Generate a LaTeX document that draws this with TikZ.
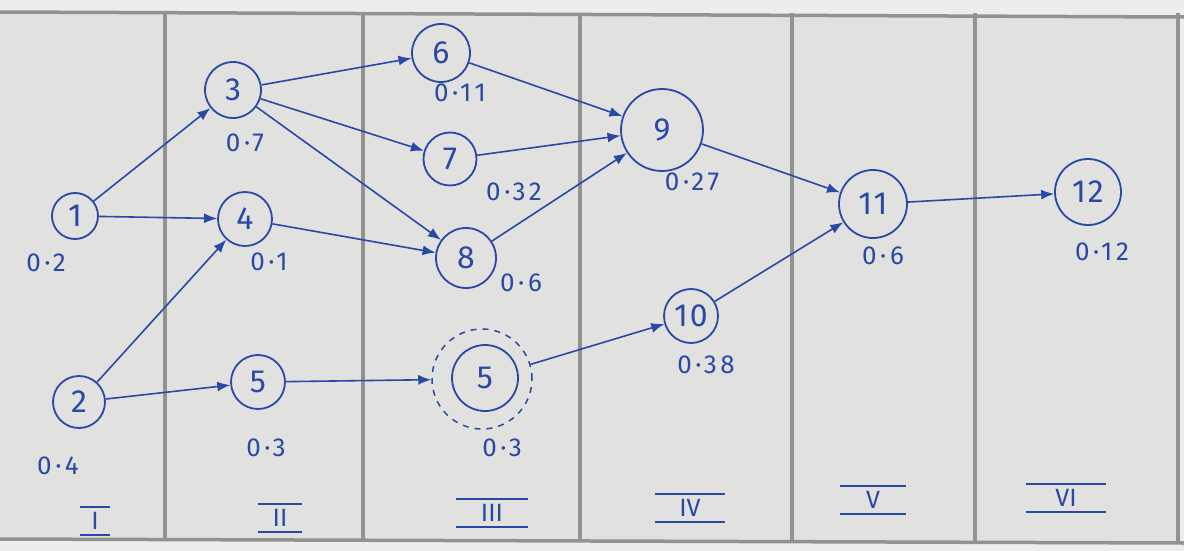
\documentclass[tikz,border=0pt]{standalone}
\usepackage{fontspec}
\setmainfont{Fira Sans}
\newfontfamily\widehand{Fira Sans}[LetterSpace=14]
\newfontfamily\nodehand{Fira Sans}[LetterSpace=6]
\usetikzlibrary{arrows.meta}
\definecolor{ink}{HTML}{2A48A6}
\definecolor{paper}{HTML}{E1E1DF}
\definecolor{paperlight}{HTML}{EDEDEB}
\definecolor{rule}{HTML}{929290}
\begin{document}
\begin{tikzpicture}[x=1pt,y=-1pt,
  state/.style={circle,draw=ink,line width=1.8pt,text=ink,inner sep=0pt,
    font=\nodehand\fontsize{32}{32}\selectfont},
  weight/.style={text=ink,inner sep=0pt,font=\widehand\fontsize{26}{26}\selectfont},
  numeral/.style={text=ink,inner sep=0pt,minimum height=28pt,
    font=\fontsize{25}{25}\selectfont},
  edge/.style={draw=ink,line width=1.6pt,-{Latex[length=13pt,width=10pt]}},
  bar/.style={draw=ink,line width=1.8pt},
  gridline/.style={draw=rule,line width=3.5pt},
]
\useasboundingbox (0,0) rectangle (1184,551);
% sheet of paper
\fill[paper] (0,0) rectangle (1184,551);
\fill[paperlight] (0,0) -- (1184,0) -- (1184,16) -- (0,11) -- cycle;
\fill[paperlight] (0,540) -- (1184,544) -- (1184,551) -- (0,551) -- cycle;
\fill[paperlight] (1179,0) rectangle (1184,551);

% table rules
\draw[gridline] (0,12) -- (1184,17);
\draw[gridline] (0,539) -- (1184,543);
\foreach \x in {165,363,580,792,975,1178}
  \draw[gridline] (\x,13) -- (\x,541);

% activity nodes
\node[state,minimum size=46pt] (n1)  at (75,216)  {1};
\node[state,minimum size=52pt] (n2)  at (79,402)  {2};
\node[state,minimum size=56pt] (n3)  at (233,90)  {3};
\node[state,minimum size=54pt] (n4)  at (245,219) {4};
\node[state,minimum size=54pt] (n5)  at (258,382) {5};
\node[state,minimum size=58pt] (n6)  at (441,53)  {6};
\node[state,minimum size=53pt] (n7)  at (450,159) {7};
\node[state,minimum size=60pt] (n8)  at (466,258) {8};
\node[state,minimum size=66pt] (n5b) at (485,378) {5};
\node[circle,draw=ink,line width=1.5pt,dash pattern=on 6pt off 6pt,
      minimum size=100pt,inner sep=0pt] (n5ring) at (482,379) {};
\node[state,minimum size=82pt] (n9)  at (662,130) {9};
\node[state,minimum size=54pt] (n10) at (691,316) {10};
\node[state,minimum size=68pt] (n11) at (873,204) {11};
\node[state,minimum size=66pt] (n12) at (1088,192) {12};

% weights
\node[weight] (w1)  at (46,263)   {0·2};
\node[weight] (w2)  at (58,466)   {0·4};
\node[weight] (w3)  at (245,143)  {0·7};
\node[weight] (w4)  at (269,262)  {0·1};
\node[weight] (w5)  at (266,448)  {0·3};
\node[weight] (w6)  at (460,93)   {0·11};
\node[weight] (w7)  at (514,192)  {0·32};
\node[weight] (w8)  at (521,283)  {0·6};
\node[weight] (w5b) at (502,448)  {0·3};
\node[weight] (w9)  at (692,182)  {0·27};
\node[weight] (w10) at (706,365)  {0·38};
\node[weight] (w11) at (883,256)  {0·6};
\node[weight] (w12) at (1102,252) {0·12};

% stage numerals
\node[numeral,minimum width=30pt] (r1) at (95,521)   {I};
\node[numeral,minimum width=44pt] (r2) at (280,518)  {II};
\node[numeral,minimum width=72pt] (r3) at (492,513)  {III};
\node[numeral,minimum width=70pt] (r4) at (690,508)  {IV};
\node[numeral,minimum width=66pt] (r5) at (873,500)  {V};
\node[numeral,minimum width=80pt] (r6) at (1066,498) {VI};
\foreach \r in {r1,r2,r3,r4,r5,r6}
  \draw[bar] (\r.north west) -- (\r.north east)
             (\r.south west) -- (\r.south east);

% precedence arrows
\draw[edge] (n1) -- (n3);
\draw[edge] (n1) -- (n4);
\draw[edge] (n2) -- (n4);
\draw[edge] (n2) -- (n5);
\draw[edge] (n3) -- (n6);
\draw[edge] (n3) -- (n7);
\draw[edge] (n3) -- (n8);
\draw[edge] (n4) -- (n8);
\draw[edge] (n5) -- (n5ring);
\draw[edge] (n6) -- (n9);
\draw[edge] (n7) -- (n9);
\draw[edge] (n8) -- (n9);
\draw[edge] (n5ring) -- (n10);
\draw[edge] (n9) -- (n11);
\draw[edge] (n10) -- (n11);
\draw[edge] (n11) -- (n12);
\end{tikzpicture}
\end{document}
